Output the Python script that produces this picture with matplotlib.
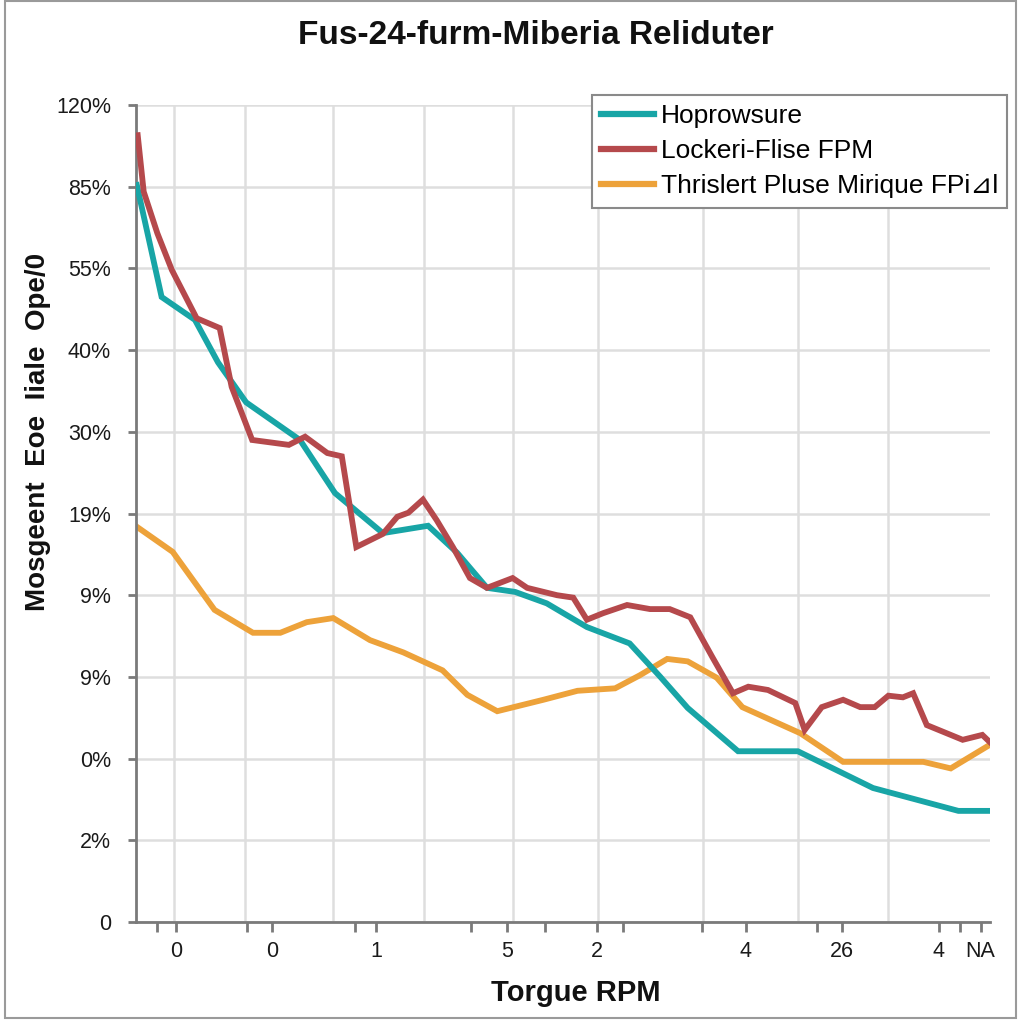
import matplotlib
matplotlib.use("Agg")
import matplotlib.pyplot as plt
from matplotlib.patches import Rectangle

plt.rcParams['font.family'] = ['Liberation Sans', 'DejaVu Sans']

# ---------------- data ----------------
title = "Fus-24-furm-Miberia Reliduter"
x_label = "Torgue RPM"
y_label = "Mosgeent  Eoe  Iiale  Ope/0"

y_tick_labels = ["0", "2%", "0%", "9%", "9%", "19%", "30%", "40%", "55%", "85%", "120%"]
y_tick_pos = list(range(len(y_tick_labels)))

x_major_pos = [4.7, 15.9, 28.1, 43.4, 54.0, 71.4, 82.7, 94.0, 98.9]
x_major_labels = ["0", "0", "1", "5", "2", "4", "26", "4", "NA"]
x_minor_pos = [2.5, 13.0, 25.6, 39.2, 47.9, 57.0, 66.3, 79.7, 96.5]
x_grid_pos = [4.5, 12.8, 23.1, 33.7, 44.1, 54.1, 66.4, 77.5, 88.1]

hop_x = [0.1, 3.0, 6.9, 9.6, 12.9, 19.2, 23.3, 28.9, 34.2, 37.6, 41.1, 44.4,
         48.1, 52.8, 57.8, 61.4, 64.6, 70.5, 77.5, 82.4, 86.3, 96.3, 100.0]
hop_y = [9.02, 7.65, 7.37, 6.85, 6.36, 5.90, 5.25, 4.76, 4.85, 4.52, 4.09, 4.04,
         3.90, 3.61, 3.41, 3.00, 2.62, 2.09, 2.09, 1.84, 1.64, 1.36, 1.36]

lock_x = [0.2, 0.9, 2.5, 4.2, 7.1, 9.8, 11.2, 13.6, 17.9, 19.8, 22.4, 24.1,
          25.8, 28.9, 30.6, 31.9, 33.6, 35.2, 37.1, 39.1, 41.1, 44.1, 45.8,
          49.3, 51.2, 52.8, 54.7, 57.5, 60.2, 62.5, 64.9, 67.5, 69.9, 71.7,
          74.0, 77.2, 78.3, 80.3, 82.8, 84.8, 86.5, 88.1, 89.8, 91.0, 92.6,
          96.8, 99.1, 100.0]
lock_y = [9.63, 8.94, 8.43, 7.98, 7.39, 7.27, 6.55, 5.90, 5.84, 5.94, 5.74, 5.70,
          4.59, 4.75, 4.96, 5.01, 5.17, 4.92, 4.59, 4.21, 4.09, 4.21, 4.09,
          4.00, 3.97, 3.70, 3.78, 3.88, 3.83, 3.83, 3.73, 3.24, 2.80, 2.88,
          2.84, 2.68, 2.35, 2.63, 2.72, 2.63, 2.63, 2.77, 2.75, 2.80, 2.41,
          2.23, 2.29, 2.20]

thr_x = [0.2, 4.3, 9.2, 13.7, 16.9, 20.0, 23.1, 27.4, 31.3, 35.9, 38.8, 42.3,
         47.7, 51.7, 56.1, 59.0, 62.2, 64.6, 68.0, 71.0, 77.8, 82.8, 92.2, 95.4, 100.0]
thr_y = [4.83, 4.53, 3.82, 3.54, 3.54, 3.67, 3.72, 3.45, 3.30, 3.08, 2.78, 2.58,
         2.72, 2.83, 2.86, 3.02, 3.22, 3.19, 2.99, 2.63, 2.31, 1.96, 1.96, 1.88, 2.17]

series_names = ["Hoprowsure", "Lockeri-Flise FPM", "Thrislert Pluse Mirique FPi\u22bfl"]
series_colors = ["#18a5a6", "#b5494c", "#eda23a"]

# ---------------- plot ----------------
fig = plt.figure(figsize=(10.24, 10.24), dpi=100)
fig.patch.set_facecolor("white")
ax = fig.add_axes([136 / 1024, 1 - 922 / 1024, (990 - 136) / 1024, (922 - 105) / 1024])

# grid
for yv in y_tick_pos:
    ax.axhline(yv, color="#dedede", lw=1.8, zorder=0)
for xv in x_grid_pos:
    ax.axvline(xv, color="#dedede", lw=1.8, zorder=0)

ax.plot(hop_x, hop_y, color=series_colors[0], lw=4.2, label=series_names[0],
        solid_joinstyle="miter", zorder=3)
ax.plot(lock_x, lock_y, color=series_colors[1], lw=4.2, label=series_names[1],
        solid_joinstyle="miter", zorder=4)
ax.plot(thr_x, thr_y, color=series_colors[2], lw=4.2, label=series_names[2],
        solid_joinstyle="miter", zorder=2)

ax.set_xlim(0, 100)
ax.set_ylim(0, 10)

ax.set_yticks(y_tick_pos)
ax.set_yticklabels(y_tick_labels, fontsize=15.5, color="#1a1a1a")
ax.set_xticks(x_major_pos)
ax.set_xticklabels(x_major_labels, fontsize=15.5, color="#1a1a1a")
ax.set_xticks(x_minor_pos, minor=True)

ax.tick_params(axis="y", direction="out", length=6, width=2, color="#7a7a7a", pad=12)
ax.tick_params(axis="x", which="both", direction="out", length=7, width=2,
               color="#7a7a7a", pad=7)

for s in ["top", "right"]:
    ax.spines[s].set_visible(False)
for s in ["left", "bottom"]:
    ax.spines[s].set_color("#7a7a7a")
    ax.spines[s].set_linewidth(2)

# title and labels
fig.text(536 / 1024, 1 - 36 / 1024, title, ha="center", va="center",
         fontsize=24, fontweight="bold", color="#111111")
fig.text(576 / 1024, 1 - 993 / 1024, x_label, ha="center", va="center",
         fontsize=21, fontweight="bold", color="#111111")
fig.text(38 / 1024, 1 - 432 / 1024, y_label, ha="center", va="center",
         rotation=90, fontsize=20, fontweight="bold", color="#111111")

leg = ax.legend(loc="upper right", bbox_to_anchor=(1007 / 1024, 1 - 95 / 1024),
                bbox_transform=fig.transFigure, fontsize=19, frameon=True,
                fancybox=False, edgecolor="#8a8a8a", framealpha=1,
                borderaxespad=0, handlelength=2.0, handletextpad=0.25,
                labelspacing=0.42, borderpad=0.35)
leg.get_frame().set_linewidth(1.5)
for line in leg.get_lines():
    line.set_linewidth(4.5)

# outer figure frame
fig.patches.append(Rectangle((5 / 1024, 6 / 1024), (1016 - 5) / 1024, (1023 - 6) / 1024,
                             transform=fig.transFigure, fill=False,
                             edgecolor="#9a9a9a", lw=1.5))

fig.savefig("out.png", dpi=100)
